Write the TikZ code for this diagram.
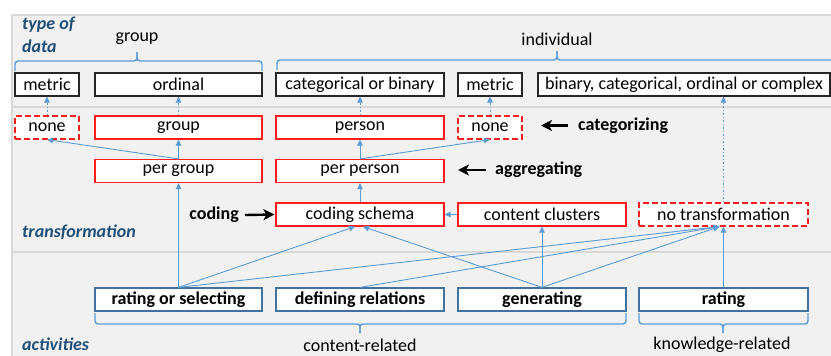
\documentclass[tikz,border=0pt]{standalone}
\usepackage{fontspec}
\setmainfont{Carlito}
\usetikzlibrary{arrows.meta}
\definecolor{band}{RGB}{241,241,241}
\definecolor{bandline}{RGB}{216,216,216}
\definecolor{arrblue}{RGB}{91,155,213}
\definecolor{actborder}{RGB}{65,113,156}
\definecolor{redb}{RGB}{255,30,30}
\definecolor{labblue}{RGB}{31,78,121}
\begin{document}
\begin{tikzpicture}[x=1pt,y=-1pt, font=\fontsize{18}{21}\selectfont,
 box/.style={draw, fill=white, inner sep=0pt, minimum height=23pt, line width=1.2pt},
 typebox/.style={box, draw=black!85},
 redbox/.style={box, draw=redb},
 dredbox/.style={redbox, dash pattern=on 6pt off 3pt},
 actbox/.style={box, draw=actborder, font=\fontsize{18}{21}\selectfont\bfseries},
 link/.style={draw=arrblue, line width=0.9pt, -{Triangle[length=6pt,width=5.5pt]}},
 dlink/.style={link, dash pattern=on 1.5pt off 2pt},
 bigarrow/.style={line width=2.4pt, -{Stealth[length=11pt,width=11pt,inset=3pt]}},
 brace/.style={draw=arrblue, line width=1.4pt, rounded corners=3pt},
 sect/.style={font=\fontsize{18}{21}\selectfont\bfseries\itshape, text=labblue, anchor=west, inner sep=0pt},
 lab/.style={inner sep=0pt},
 boldlab/.style={inner sep=0pt, font=\fontsize{18}{21}\selectfont\bfseries}
]
\useasboundingbox (0,0) rectangle (831,356);
% bands
\fill[band] (11,15) rectangle (831,356);
\draw[bandline, line width=2.2pt] (11,15) -- (831,15);
\draw[bandline, line width=2.2pt] (11,107) -- (831,107);
\draw[bandline, line width=2.2pt] (11,252) -- (831,252);
\draw[bandline, line width=2pt] (12,14) -- (12,356);

% section labels
\node[sect] (s1) at (22,25) {type of};
\node[sect] (s2) at (22,46) {data};
\node[sect] (s3) at (22,232) {transformation};
\node[sect] (s4) at (22,344) {activities};

% type of data
\node[typebox, minimum width=64pt] (t1) at (47,84.5) {metric};
\node[typebox, minimum width=167pt] (t2) at (178.5,84.5) {ordinal};
\node[typebox, minimum width=168pt] (t3) at (360,84.5) {categorical or binary};
\node[typebox, minimum width=64pt] (t4) at (490,84.5) {metric};
\node[typebox, minimum width=292pt] (t5) at (684,84.5) {binary, categorical, ordinal or complex};

% transformation
\node[dredbox, minimum width=64pt] (n1) at (47,127.5) {none};
\node[redbox, minimum width=167pt] (g) at (178.5,127.5) {group};
\node[redbox, minimum width=168pt] (p) at (360,127.5) {person};
\node[dredbox, minimum width=64pt] (n2) at (490,127.5) {none};
\node[redbox, minimum width=167pt] (pg) at (178.5,171) {per group};
\node[redbox, minimum width=168pt] (pp) at (360,171) {per person};
\node[redbox, minimum width=168pt] (cs) at (360,214.5) {coding schema};
\node[redbox, minimum width=168pt] (cc) at (542,214.5) {content clusters};
\node[dredbox, minimum width=169pt] (nt) at (723.5,214.5) {no transformation};

% activities
\node[actbox, minimum width=167pt] (rs) at (178.5,299.5) {rating or selecting};
\node[actbox, minimum width=168pt] (dr) at (360,299.5) {defining relations};
\node[actbox, minimum width=168pt] (ge) at (542,299.5) {generating};
\node[actbox, minimum width=169pt] (ra) at (723.5,299.5) {rating};

% bold labels with arrows
\node[boldlab, anchor=west] (cat) at (578,125.5) {categorizing};
\node[boldlab, anchor=west] (agg) at (495,170) {aggregating};
\node[boldlab, anchor=east] (cod) at (239,215) {coding};
\draw[bigarrow] ([xshift=-10pt]cat.west) -- ([xshift=-37pt]cat.west);
\draw[bigarrow] ([xshift=-9pt]agg.west) -- ([xshift=-37pt]agg.west);
\draw[bigarrow] ([xshift=6pt]cod.east) -- ([xshift=-1pt]cs.west);

% dotted links
\draw[dlink] (n1.north) -- (t1.south);
\draw[dlink] (g.north) -- (t2.south);
\draw[dlink] (p.north) -- (t3.south);
\draw[dlink] (n2.north) -- (t4.south);
\draw[dlink] (nt.north) -- (nt.north |- t5.south);

% solid links
\draw[link] (pg.north) -- (g.south);
\draw[link] (pg.north) -- (n1.south);
\draw[link] (pp.north) -- (p.south);
\draw[link] (pp.north) -- (n2.south);
\draw[link] (cs.north) -- (pp.south);
\draw[link] (cc.west) -- (cs.east);
\draw[link] (rs.north) -- (pg.south);
\draw[link] (rs.north) -- ([xshift=-5pt]cs.south);
\draw[link] (rs.north) -- ([xshift=-4pt]nt.south);
\draw[link] (dr.north) -- ([xshift=-4pt]nt.south);
\draw[link] (ge.north) -- ([xshift=3pt]cs.south);
\draw[link] (ge.north) -- (cc.south);
\draw[link] (ge.north) -- ([xshift=-4pt]nt.south);
\draw[link] (ra.north) -- (nt.south);

% braces
\draw[brace] (15,71) -- (15,61) -- (137,61) -- (137,52);
\draw[brace] (137,52) -- (137,61) -- (262,61) -- (262,71);
\draw[brace] (277,70) -- (277,60) -- (557,60) -- (557,51);
\draw[brace] (557,51) -- (557,60) -- (845,60);
\draw[brace] (95,313) -- (95,324) -- (360,324) -- (360,333);
\draw[brace] (360,333) -- (360,324) -- (626,324) -- (626,313);
\draw[brace] (639,313) -- (639,324) -- (723,324) -- (723,333);
\draw[brace] (723,333) -- (723,324) -- (808,324) -- (808,313);

\node[lab] (grp) at (137,39) {group};
\node[lab] (ind) at (557,39) {individual};
\node[lab] (cr) at (360,345) {content-related};
\node[lab] (kr) at (722,345) {knowledge-related};
\end{tikzpicture}
\end{document}
